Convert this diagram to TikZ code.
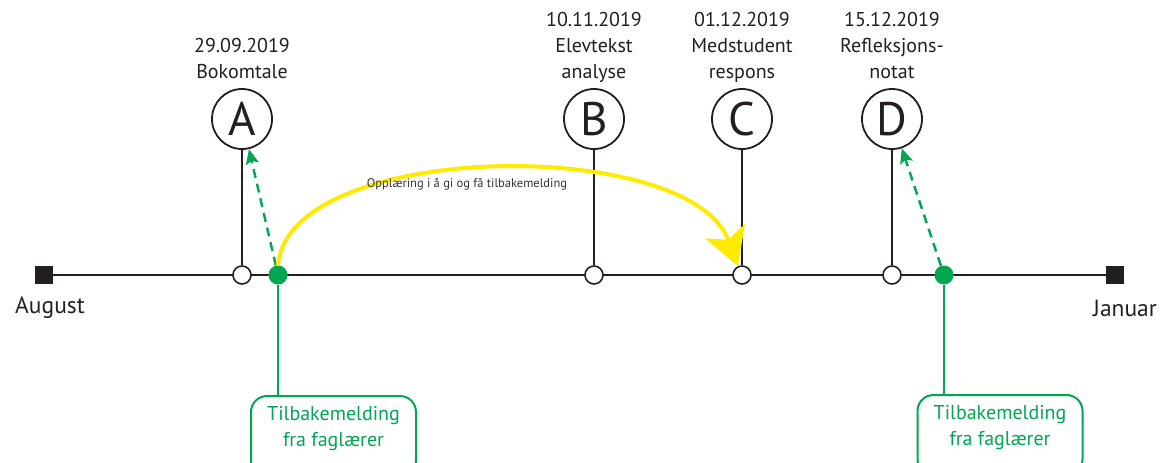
\documentclass[tikz,border=0pt]{standalone}
\usepackage{fontspec}
\setmainfont{PT Sans}
\usetikzlibrary{arrows.meta}
\definecolor{ink}{HTML}{231F20}
\definecolor{fbgreen}{HTML}{00A651}
\definecolor{arcyellow}{HTML}{FFEB00}
\definecolor{note}{HTML}{333333}

\begin{document}
\begin{tikzpicture}[x=1pt,y=-1pt,
  axis/.style={draw=ink,line width=2pt},
  endmark/.style={rectangle,fill=ink,minimum size=18pt,inner sep=0pt},
  event/.style={circle,draw=ink,fill=white,line width=1.6pt,minimum size=18pt,inner sep=0pt},
  feedback/.style={circle,fill=fbgreen,minimum size=19pt,inner sep=0pt},
  letter/.style={circle,draw=ink,line width=1.8pt,minimum size=60pt,inner sep=0pt,
    font=\fontsize{47}{47}\selectfont,text=ink},
  caption/.style={anchor=north,align=center,inner sep=0pt,
    font=\fontsize{20}{26}\selectfont,text=ink},
  month/.style={inner sep=0pt,font=\fontsize{23.5}{26}\selectfont,text=ink},
  fbbox/.style={draw=fbgreen,line width=2pt,rounded corners=16pt,
    minimum width=165pt,minimum height=80pt,anchor=north,inner sep=0pt},
  fbtext/.style={align=center,inner sep=0pt,text=fbgreen,
    font=\fontsize{20}{26}\selectfont},
  fbline/.style={draw=fbgreen,line width=2pt},
  hint/.style={draw=fbgreen,line width=2.4pt,dash pattern=on 9pt off 6pt,
    -{Stealth[length=15pt,width=13pt,inset=3pt]}},
  arc/.style={draw=arcyellow,line width=4pt,
    -{Stealth[length=37pt,width=42pt,inset=9pt]}},
]
\useasboundingbox (0,0) rectangle (1168,463);
\clip (0,0) rectangle (1168,463);

% positions on the time axis
\coordinate (pA) at (242,275);
\coordinate (pB) at (594,275);
\coordinate (pC) at (742,275);
\coordinate (pD) at (892,275);
\coordinate (pF1) at (278,275);
\coordinate (pF2) at (944,275);

% ends of the axis
\node[endmark] (aug) at (44,275) {};
\node[endmark] (jan) at (1115,275) {};
\node[month] (augtext) at (50,308) {August};
\node[month] (jantext) at (1125,308) {Januar};
\draw[axis] (aug) -- (jan);

% assignments
\node[letter] (A) at (242,119) {A};
\node[letter] (B) at (594,119) {B};
\node[letter] (C) at (742,119) {C};
\node[letter] (D) at (892,119) {D};

\node[caption] (capA) at (242,38) {29.09.2019\\Bokomtale};
\node[caption] (capB) at (594,12) {10.11.2019\\Elevtekst\\analyse};
\node[caption] (capC) at (742,12) {01.12.2019\\Medstudent\\respons};
\node[caption] (capD) at (892,12) {15.12.2019\\Refleksjons-\\notat};

\node[event] (eA) at (pA) {};
\node[event] (eB) at (pB) {};
\node[event] (eC) at (pC) {};
\node[event] (eD) at (pD) {};

\draw[axis] (A) -- (eA);
\draw[axis] (B) -- (eB);
\draw[axis] (C) -- (eC);
\draw[axis] (D) -- (eD);

% feedback from the teacher
\node[fbbox] (box1) at (333.5,395) {};
\node[fbbox] (box2) at (1000,394) {};
\node[fbtext] (fb1) at (333.5,429) {Tilbakemelding\\fra faglærer};
\node[fbtext] (fb2) at (1000,428) {Tilbakemelding\\fra faglærer};

\node[feedback] (g1) at (pF1) {};
\node[feedback] (g2) at (pF2) {};
\draw[fbline] (g1) -- (g1 |- box1.north);
\draw[fbline] (g2) -- (g2 |- box2.north);

\draw[hint] (g1) -- (A);
\draw[hint] (g2) -- (D);

% training arc
\draw[arc] (g1.north) .. controls (288,140) and (690,135) .. (eC.115);
\node[inner sep=0pt,text=note,font=\fontsize{12.5}{14}\selectfont] (train) at (467,184)
  {Opplæring i å gi og få tilbakemelding};
\end{tikzpicture}
\end{document}
